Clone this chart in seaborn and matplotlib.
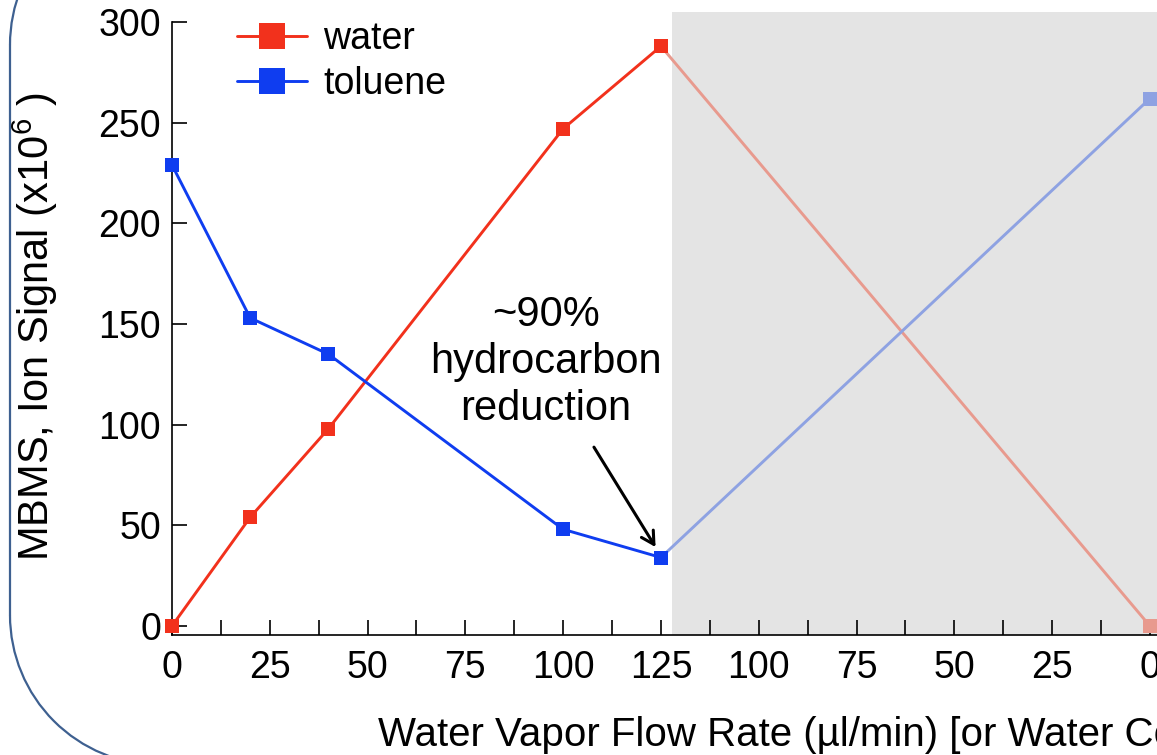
import pandas as pd
import matplotlib.pyplot as plt
import seaborn as sns
from matplotlib.patches import Arc
from matplotlib.lines import Line2D
from matplotlib.transforms import IdentityTransform
from matplotlib.ticker import MultipleLocator, FixedLocator

# data
flow_up = [0, 20, 40, 100, 125]
water_up = [0, 54, 98, 247, 288]
toluene_up = [229, 153, 135, 48, 34]

# water turned off again (shaded part): position 125 -> 250 on the axis
flow_down = [125, 250]
water_down = [288, 0]
toluene_down = [34, 262]

tick_pos = [0, 25, 50, 75, 100, 125, 150, 175, 200, 225, 250]
tick_labels = ['0', '25', '50', '75', '100', '125', '100', '75', '50', '25', '0']

red = '#F2311C'
blue = '#0F3DF0'
red_faded = '#E89A8E'
blue_faded = '#8EA2E2'

sns.set_style('ticks')
plt.rcParams['font.family'] = ['Liberation Sans', 'DejaVu Sans']
plt.rcParams['mathtext.fontset'] = 'custom'
plt.rcParams['mathtext.rm'] = 'Liberation Sans'
plt.rcParams['mathtext.it'] = 'Liberation Sans'
for k in ['text.color', 'axes.labelcolor', 'xtick.color', 'ytick.color', 'axes.edgecolor']:
    plt.rcParams[k] = 'black'

up = pd.DataFrame({
    'flow': flow_up * 2,
    'signal': water_up + toluene_up,
    'species': ['water'] * len(flow_up) + ['toluene'] * len(flow_up),
})
down = pd.DataFrame({
    'flow': flow_down * 2,
    'signal': water_down + toluene_down,
    'species': ['water'] * 2 + ['toluene'] * 2,
})

fig = plt.figure(figsize=(11.57, 7.55), dpi=100)
ax = fig.add_axes([172 / 1157, 120 / 755, 1017 / 1157, 623 / 755])

ax.axvspan(127.8, 270, color='#E4E4E4', lw=0, zorder=0)

sns.lineplot(data=down, x='flow', y='signal', hue='species',
             palette={'water': red_faded, 'toluene': blue_faded},
             marker='s', markersize=9.5, markeredgewidth=0, linewidth=2.1,
             legend=False, ax=ax, zorder=2, clip_on=False)
sns.lineplot(data=up, x='flow', y='signal', hue='species',
             palette={'water': red, 'toluene': blue},
             marker='s', markersize=9.5, markeredgewidth=0, linewidth=2.1,
             ax=ax, zorder=3, clip_on=False)

ax.set_xlim(0, 260)
ax.set_ylim(-4.5, 305)
ax.spines['top'].set_visible(False)
ax.spines['right'].set_visible(False)
ax.spines['left'].set_bounds(-4.5, 300)
for s in ['left', 'bottom']:
    ax.spines[s].set_linewidth(1.2)

ax.xaxis.set_major_locator(FixedLocator(tick_pos))
ax.set_xticklabels(tick_labels)
ax.xaxis.set_minor_locator(MultipleLocator(12.5))
ax.yaxis.set_major_locator(MultipleLocator(50))
ax.tick_params(axis='both', which='both', direction='in', length=11, width=1.2,
               labelsize=27)
ax.tick_params(axis='x', which='major', pad=11)
ax.tick_params(axis='y', which='major', pad=8)
for t in ax.xaxis.get_major_ticks() + ax.xaxis.get_minor_ticks():
    if t.get_loc() > 128:
        t.tick1line.set_color('#8A8A8A')

ax.set_xlabel('')
ax.set_ylabel('')

ax.legend(loc='upper left', bbox_to_anchor=(0.031, 1.04), frameon=False,
          fontsize=27, handlelength=1.85, handletextpad=0.45,
          labelspacing=0.25, markerscale=2.0)

fig.text(35 / 1157, 1 - 327 / 755, 'MBMS, Ion Signal (x10$^{6}$ )',
         rotation=90, ha='center', va='center', fontsize=30)
fig.text(378 / 1157, 1 - 735 / 755,
         'Water Vapor Flow Rate (µl/min) [or Water Concentration]',
         ha='left', va='center', fontsize=29)

ax.text(95.5, 131, '~90%\nhydrocarbon\nreduction', ha='center', va='center',
        fontsize=30, linespacing=1.22)
ax.annotate('', xy=(124, 38), xytext=(107.5, 90),
            arrowprops=dict(arrowstyle='->,head_length=0.9,head_width=0.5',
                            lw=2.2, color='black'))

# rounded callout frame on the left (pixel coordinates, origin bottom-left)
frame_color = '#3E6090'
pix = IdentityTransform()
fig.add_artist(Line2D([10, 10], [140, 710], transform=pix, color=frame_color, lw=1.6))
fig.add_artist(Arc((160, 140), 300, 300, theta1=180, theta2=270, transform=pix,
                   color=frame_color, lw=1.6))
fig.add_artist(Arc((160, 710), 300, 300, theta1=90, theta2=180, transform=pix,
                   color=frame_color, lw=1.6))

fig.savefig('out.png', dpi=100)
